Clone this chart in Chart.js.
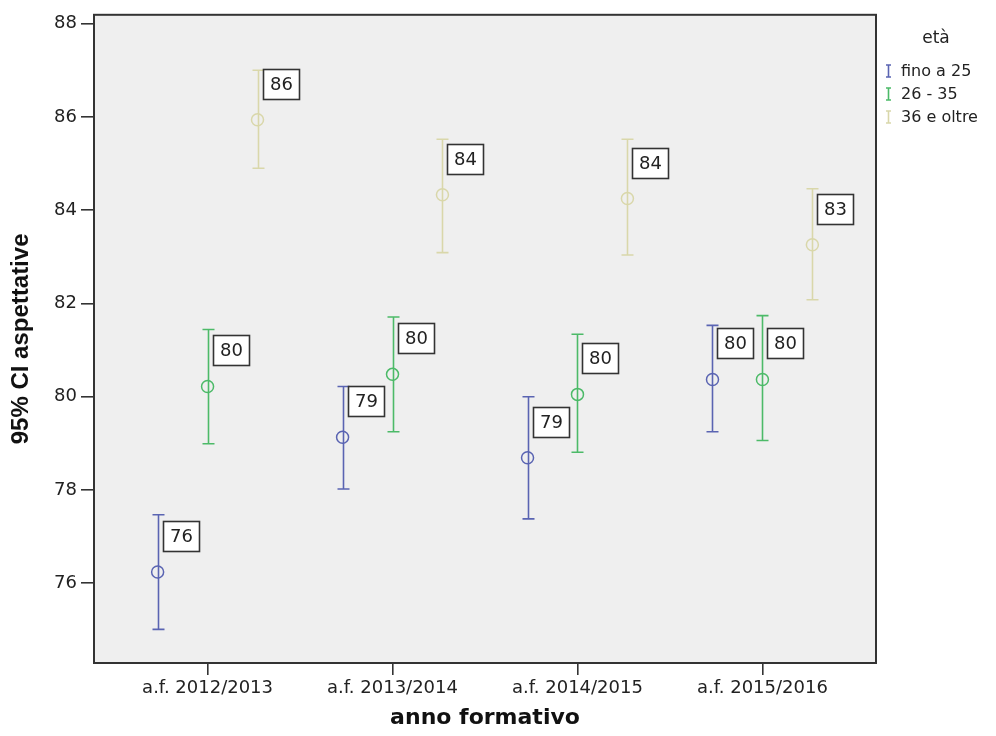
<!DOCTYPE html>
<html>
<head>
<meta charset="utf-8">
<script src="https://cdn.jsdelivr.net/npm/chart.js@4.4.1/dist/chart.umd.min.js"></script>
<style>
  html, body { margin: 0; padding: 0; background: #ffffff; }
  #wrap { width: 996px; height: 736px; }
</style>
</head>
<body>
<div id="wrap"><canvas id="c" width="996" height="736"></canvas></div>
<script>
// ---- data ----
const categories = ['a.f. 2012/2013', 'a.f. 2013/2014', 'a.f. 2014/2015', 'a.f. 2015/2016'];
const seriesNames = ['fino a 25', '26 - 35', '36 e oltre'];
const legendTitle = 'età';
const xTitle = 'anno formativo';
const yTitle = '95% CI aspettative';
const yTicks = [76, 78, 80, 82, 84, 86, 88];

const meanFino = [76.24, 79.13, 78.69, 80.37];
const lowFino  = [75.01, 78.02, 77.38, 79.25];
const highFino = [77.47, 80.22, 80.00, 81.53];

const meanMid  = [80.22, 80.48, 80.05, 80.37];
const lowMid   = [78.99, 79.25, 78.81, 79.06];
const highMid  = [81.44, 81.71, 81.34, 81.74];

const meanOld  = [85.94, 84.33, 84.25, 83.26];
const lowOld   = [84.90, 83.09, 83.04, 82.08];
const highOld  = [87.00, 85.52, 85.52, 84.46];

const seriesColors = ['#5a64b2', '#4cba68', '#d9d7aa'];
const seriesOffsets = [-0.27, 0, 0.27];

const means = [meanFino, meanMid, meanOld];
const lows = [lowFino, lowMid, lowOld];
const highs = [highFino, highMid, highOld];

const datasets = seriesNames.map((name, s) => ({
  label: name,
  data: means[s].map((m, i) => ({ x: i + seriesOffsets[s], y: m })),
  low: lows[s],
  high: highs[s],
  showLine: false,
  pointStyle: 'circle',
  pointRadius: 6,
  pointBorderWidth: 1.5,
  pointBackgroundColor: 'rgba(0,0,0,0)',
  pointBorderColor: seriesColors[s],
  borderColor: seriesColors[s],
  backgroundColor: seriesColors[s]
}));

const sans = "'DejaVu Sans', sans-serif";

const decor = {
  id: 'decor',
  beforeDraw(chart) {
    const { ctx, chartArea: a } = chart;
    ctx.save();
    ctx.fillStyle = '#efefef';
    ctx.fillRect(a.left, a.top, a.right - a.left, a.bottom - a.top);
    ctx.restore();
  },
  beforeDatasetsDraw(chart) {
    const { ctx, scales: { x, y } } = chart;
    ctx.save();
    chart.data.datasets.forEach((ds, s) => {
      ctx.strokeStyle = ds.borderColor;
      ctx.lineWidth = 1.6;
      ds.data.forEach((p, i) => {
        const px = Math.round(x.getPixelForValue(p.x)) + 0.5;
        const yt = y.getPixelForValue(ds.high[i]);
        const yb = y.getPixelForValue(ds.low[i]);
        ctx.beginPath();
        ctx.moveTo(px, yt); ctx.lineTo(px, yb);
        ctx.moveTo(px - 6, yt); ctx.lineTo(px + 6, yt);
        ctx.moveTo(px - 6, yb); ctx.lineTo(px + 6, yb);
        ctx.stroke();
      });
    });
    ctx.restore();
  },
  afterDraw(chart) {
    const { ctx, chartArea: a, scales: { x, y } } = chart;
    ctx.save();
    // value labels
    chart.data.datasets.forEach((ds) => {
      ds.data.forEach((p) => {
        const px = x.getPixelForValue(p.x);
        const py = y.getPixelForValue(p.y);
        const bx = Math.round(px + 5) + 0.5;
        const by = Math.round(py - 36 - 15) + 0.5;
        ctx.fillStyle = '#ffffff';
        ctx.fillRect(bx, by, 36, 30);
        ctx.strokeStyle = '#333333';
        ctx.lineWidth = 1.6;
        ctx.strokeRect(bx, by, 36, 30);
        ctx.fillStyle = '#222222';
        ctx.font = "18px " + sans;
        ctx.textAlign = 'center';
        ctx.textBaseline = 'middle';
        ctx.fillText(String(Math.round(p.y)), bx + 18, by + 16);
      });
    });
    // plot frame
    ctx.strokeStyle = '#333333';
    ctx.lineWidth = 2;
    ctx.strokeRect(a.left, a.top, a.right - a.left, a.bottom - a.top);
    // legend
    ctx.fillStyle = '#222222';
    ctx.textAlign = 'center';
    ctx.textBaseline = 'middle';
    ctx.font = "17px " + sans;
    ctx.fillText(legendTitle, 936, 39);
    ctx.textAlign = 'left';
    ctx.font = "16px " + sans;
    chart.data.datasets.forEach((ds, s) => {
      const ly = 71 + s * 23;
      ctx.strokeStyle = ds.borderColor;
      ctx.lineWidth = 1.6;
      ctx.beginPath();
      ctx.moveTo(888.5, ly - 6); ctx.lineTo(888.5, ly + 6);
      ctx.moveTo(886, ly - 6); ctx.lineTo(891, ly - 6);
      ctx.moveTo(886, ly + 6); ctx.lineTo(891, ly + 6);
      ctx.stroke();
      ctx.fillStyle = '#222222';
      ctx.fillText(ds.label, 901, ly + 1);
    });
    ctx.restore();
  }
};

new Chart(document.getElementById('c'), {
  type: 'scatter',
  data: { datasets },
  options: {
    responsive: false,
    animation: false,
    events: [],
    layout: { padding: { top: 12, right: 120, bottom: 0, left: 0 } },
    plugins: { legend: { display: false }, tooltip: { enabled: false } },
    scales: {
      x: {
        type: 'linear',
        min: -0.614,
        max: 3.614,
        afterBuildTicks: (s) => { s.ticks = categories.map((c, i) => ({ value: i })); },
        afterFit: (s) => { s.height = 73; },
        ticks: {
          callback: (v) => categories[v],
          font: { family: sans, size: 18 },
          color: '#222222',
          padding: 3,
          maxRotation: 0,
          autoSkip: false
        },
        grid: { drawOnChartArea: false, drawTicks: true, tickLength: 12, color: '#333333', lineWidth: 1.6 },
        border: { display: true, color: '#333333', width: 2 },
        title: {
          display: true, text: xTitle, color: '#111111',
          font: { family: sans, size: 22, weight: 'bold' },
          padding: { top: 2, bottom: 5 }
        }
      },
      y: {
        type: 'linear',
        min: 74.29,
        max: 88.19,
        afterBuildTicks: (s) => { s.ticks = yTicks.map(v => ({ value: v })); },
        afterFit: (s) => { s.width = 94; },
        ticks: {
          font: { family: sans, size: 18 },
          color: '#222222',
          padding: 4
        },
        grid: { drawOnChartArea: false, drawTicks: true, tickLength: 13, color: '#333333', lineWidth: 1.6 },
        border: { display: true, color: '#333333', width: 2 },
        title: {
          display: true, text: yTitle, color: '#111111',
          font: { family: "'Liberation Sans', Arial, sans-serif", size: 24, weight: 'bold' },
          padding: { top: 7, bottom: 4 }
        }
      }
    }
  },
  plugins: [decor]
});
</script>
</body>
</html>
